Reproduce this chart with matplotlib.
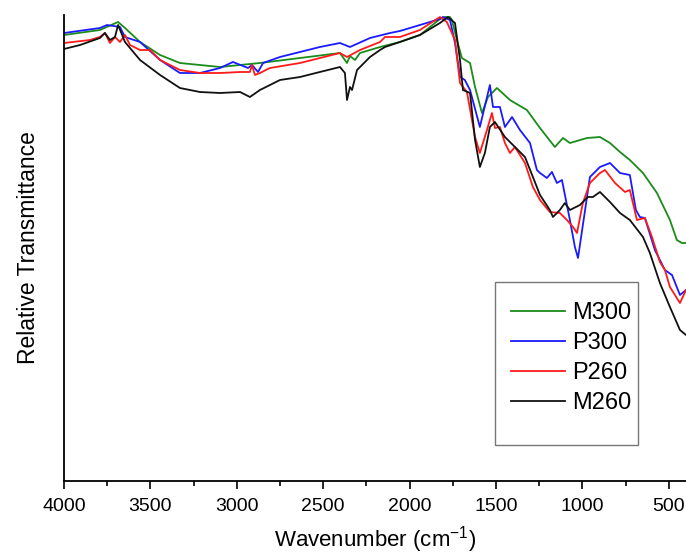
import numpy as np
from matplotlib import pyplot as plt
from matplotlib.patches import Rectangle
from matplotlib.ticker import MultipleLocator

plt.rcParams['font.family'] = ['Liberation Sans', 'DejaVu Sans']
plt.rcParams['mathtext.fontset'] = 'custom'
plt.rcParams['mathtext.rm'] = 'Liberation Sans'

# FTIR spectra (relative transmittance, arbitrary units)
wn_m300 = [4000, 3792, 3687, 3647, 3560, 3444, 3329, 3097, 2866, 2634, 2403, 2362, 2345, 2316,
           2287, 2171, 2056, 1940, 1824, 1795, 1766, 1755, 1726, 1697, 1650, 1621, 1581, 1546,
           1494, 1419, 1321, 1245, 1159, 1112, 1072, 973, 898, 840, 782, 725, 649, 568, 493,
           453, 424, 400]
t_m300 = [446, 451, 459, 453, 439, 426, 418, 414, 418, 423, 428, 418, 425, 421,
          428, 434, 439, 446, 462, 464, 464, 461, 441, 423, 418, 394, 368, 384,
          393, 381, 371, 353, 334, 343, 338, 343, 344, 338, 329, 321, 308, 288, 261,
          241, 238, 238]

wn_p300 = [4000, 3792, 3751, 3676, 3647, 3560, 3444, 3329, 3213, 3097, 3022, 2935, 2912, 2877,
           2848, 2750, 2519, 2403, 2345, 2229, 2113, 2056, 1940, 1824, 1807, 1766, 1737, 1708,
           1680, 1650, 1593, 1535, 1517, 1477, 1448, 1407, 1361, 1303, 1263, 1245, 1205, 1176,
           1147, 1118, 1072, 1043, 1025, 956, 898, 840, 782, 725, 690, 667, 638, 580, 522,
           481, 435, 400]
t_p300 = [448, 453, 456, 454, 444, 439, 421, 408, 408, 413, 419, 413, 416, 409,
          418, 424, 434, 438, 434, 443, 448, 450, 456, 462, 464, 461, 438, 404,
          401, 391, 354, 396, 374, 374, 354, 364, 351, 338, 311, 308, 303, 309,
          298, 301, 261, 234, 223, 304, 314, 318, 308, 306, 271, 264, 263, 231, 211,
          206, 186, 191]

wn_p260 = [4000, 3850, 3792, 3763, 3734, 3705, 3676, 3647, 3618, 3560, 3502, 3444, 3329, 3213,
           3097, 2981, 2924, 2912, 2895, 2866, 2808, 2634, 2403, 2362, 2287, 2171, 2142, 2056,
           1940, 1824, 1784, 1737, 1708, 1668, 1621, 1593, 1552, 1523, 1506, 1477, 1448, 1419,
           1390, 1332, 1286, 1245, 1188, 1130, 1089, 1054, 1031, 997, 956, 898, 869, 811,
           753, 725, 684, 638, 597, 551, 522, 493, 435, 400]
t_p260 = [438, 441, 444, 448, 438, 444, 439, 446, 436, 431, 431, 421, 411, 408,
          408, 409, 409, 416, 406, 408, 413, 418, 428, 424, 431, 439, 444, 444,
          451, 464, 459, 441, 398, 389, 344, 328, 351, 368, 353, 354, 338, 328,
          334, 318, 294, 281, 269, 268, 261, 254, 248, 278, 298, 308, 311, 298,
          289, 291, 261, 263, 244, 219, 211, 194, 178, 191]

wn_m260 = [4000, 3907, 3792, 3763, 3734, 3705, 3687, 3647, 3618, 3560, 3444, 3329, 3213, 3097,
           2981, 2924, 2866, 2750, 2634, 2519, 2403, 2374, 2362, 2345, 2333, 2304, 2229, 2171,
           2142, 2056, 1940, 1824, 1778, 1737, 1708, 1691, 1650, 1621, 1593, 1564, 1535, 1506,
           1448, 1390, 1332, 1286, 1245, 1188, 1170, 1130, 1101, 1072, 1014, 968, 939, 898,
           840, 782, 725, 649, 609, 551, 493, 435, 400]
t_m260 = [432, 436, 443, 448, 441, 444, 456, 439, 433, 421, 406, 393, 389, 388,
          389, 384, 391, 401, 404, 409, 414, 408, 381, 394, 391, 411, 424, 431,
          434, 439, 446, 458, 464, 458, 421, 391, 388, 341, 314, 328, 354, 359,
          344, 334, 324, 304, 286, 271, 264, 271, 278, 271, 276, 284, 284, 289,
          279, 268, 261, 244, 228, 198, 174, 151, 146]

fig = plt.figure(figsize=(6.86, 5.56), dpi=100)
ax = fig.add_axes([64 / 686, 1 - 481 / 556, 1 - 64 / 686, 466 / 556])

ax.plot(wn_m300, t_m300, color='#1a8c1a', lw=1.3, label='M300')
ax.plot(wn_p300, t_p300, color='#1a1aff', lw=1.3, label='P300')
ax.plot(wn_p260, t_p260, color='#ff1a1a', lw=1.3, label='P260')
ax.plot(wn_m260, t_m260, color='#111111', lw=1.3, label='M260')

ax.set_xlim(4000, 400)
ax.set_ylim(0, 466)
ax.xaxis.set_major_locator(MultipleLocator(500))
ax.xaxis.set_minor_locator(MultipleLocator(250))
ax.set_yticks([])
ax.spines['top'].set_visible(False)
ax.spines['right'].set_visible(False)
ax.spines['left'].set_linewidth(1.3)
ax.spines['bottom'].set_linewidth(1.3)
ax.tick_params(axis='x', which='major', direction='out', length=6, width=1.2, labelsize=14, pad=6)
ax.tick_params(axis='x', which='minor', direction='out', length=3.5, width=1.2)

ax.set_xlabel('Wavenumber (cm$^{-1}$)', fontsize=16, labelpad=7)
ax.set_ylabel('Relative Transmittance', fontsize=16.5, labelpad=17)

# legend with a taller box than its entries
leg = ax.legend(loc='upper left', bbox_to_anchor=(511 / 686, 1 - 302 / 556),
                bbox_transform=fig.transFigure, frameon=False, fontsize=17,
                handlelength=2.3, handletextpad=0.3, labelspacing=0.34,
                borderpad=0, borderaxespad=0)
fig.add_artist(Rectangle((495 / 686, 1 - 445 / 556), 143 / 686, 163 / 556,
                         transform=fig.transFigure, fill=False, edgecolor='#777777', lw=1))

plt.savefig('out.png', dpi=100)
